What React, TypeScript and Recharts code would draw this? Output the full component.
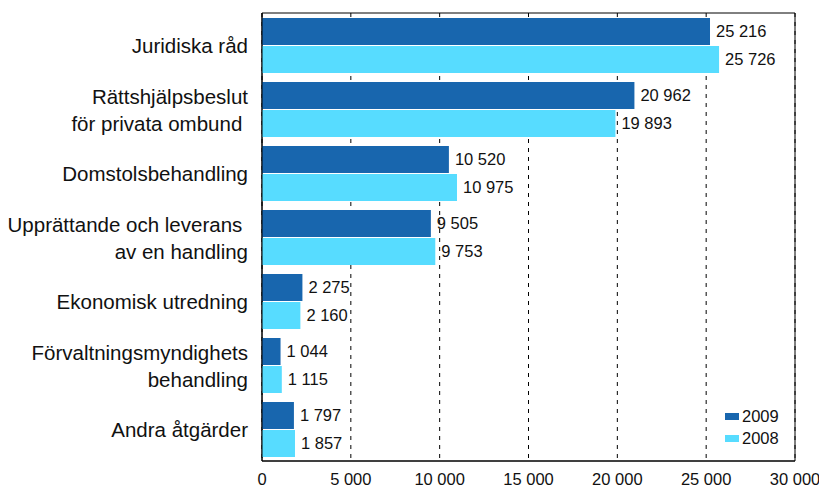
import React from 'react';
import { BarChart, Bar, XAxis, YAxis, CartesianGrid, LabelList, Legend, ReferenceArea } from 'recharts';

const categories = [
  'Juridiska råd',
  'Rättshjälpsbeslut\nför privata ombund ',
  'Domstolsbehandling',
  'Upprättande och leverans \nav en handling',
  'Ekonomisk utredning',
  'Förvaltningsmyndighets\nbehandling',
  'Andra åtgärder',
];
const values2009 = [25216, 20962, 10520, 9505, 2275, 1044, 1797];
const values2008 = [25726, 19893, 10975, 9753, 2160, 1115, 1857];
const xTicks = [0, 5000, 10000, 15000, 20000, 25000, 30000];
const seriesNames = ['2009', '2008'];
const colors = ['#1866ae', '#57dcff'];

const data = categories.map((c, i) => ({ name: c, v2009: values2009[i], v2008: values2008[i] }));

const fmt = (v: any) => String(v).replace(/\B(?=(\d{3})+(?!\d))/g, '\u00a0');

const FONT = '"Liberation Sans", Arial, sans-serif';

const CategoryTick = (props: any) => {
  const { x, y, payload } = props;
  const lines: string[] = String(payload.value).split('\n');
  const lh = 27;
  const start = y + 1 - ((lines.length - 1) * lh) / 2;
  return (
    <text x={x} y={start} textAnchor="end" fontSize={20.5} fontFamily={FONT} fill="#111">
      {lines.map((l, i) => (
        <tspan key={i} x={x} y={start + i * lh} dy="0.36em" style={{ whiteSpace: 'pre' }}>
          {l}
        </tspan>
      ))}
    </text>
  );
};

const LegendContent = () => (
  <div style={{ fontFamily: FONT, fontSize: 16.5, color: '#111', lineHeight: '22px' }}>
    {seriesNames.map((n, i) => (
      <div key={n} style={{ display: 'flex', alignItems: 'center' }}>
        <span style={{ display: 'inline-block', width: 14, height: 7, background: colors[i], marginRight: 3 }} />
        <span>{n}</span>
      </div>
    ))}
  </div>
);

export default function App() {
  return (
    <div style={{ position: 'absolute', left: 0, top: 0, width: 819, height: 489, background: '#fff' }}>
      <BarChart
        width={819}
        height={489}
        data={data}
        layout="vertical"
        margin={{ top: 13, right: 24, bottom: 0, left: 0 }}
        barCategoryGap={5}
        barGap={1}
      >
        <CartesianGrid horizontal={false} vertical stroke="#000" strokeDasharray="4 5" />
        <XAxis
          type="number"
          domain={[0, 30000]}
          ticks={xTicks}
          tickFormatter={fmt}
          height={28}
          tickSize={0}
          tickMargin={12}
          tickLine={false}
          axisLine={{ stroke: '#000' }}
          tick={{ fontSize: 16.5, fill: '#111', fontFamily: FONT }}
          interval={0}
        />
        <YAxis
          type="category"
          dataKey="name"
          width={262}
          tickSize={0}
          tickMargin={14}
          tickLine={false}
          axisLine={{ stroke: '#000' }}
          tick={<CategoryTick />}
          interval={0}
        />
        <ReferenceArea x1={0} x2={30000} fill="none" stroke="#000" strokeWidth={1} ifOverflow="visible" />
        <Legend
          layout="horizontal"
          align="center"
          verticalAlign="middle"
          content={<LegendContent />}
          wrapperStyle={{ left: 725, top: 405, width: 70 }}
        />
        <Bar dataKey="v2009" name="2009" fill={colors[0]} isAnimationActive={false}>
          <LabelList dataKey="v2009" position="right" offset={6} formatter={fmt} fill="#111" fontSize={16.5} fontFamily={FONT} />
        </Bar>
        <Bar dataKey="v2008" name="2008" fill={colors[1]} isAnimationActive={false}>
          <LabelList dataKey="v2008" position="right" offset={6} formatter={fmt} fill="#111" fontSize={16.5} fontFamily={FONT} />
        </Bar>
      </BarChart>
    </div>
  );
}
